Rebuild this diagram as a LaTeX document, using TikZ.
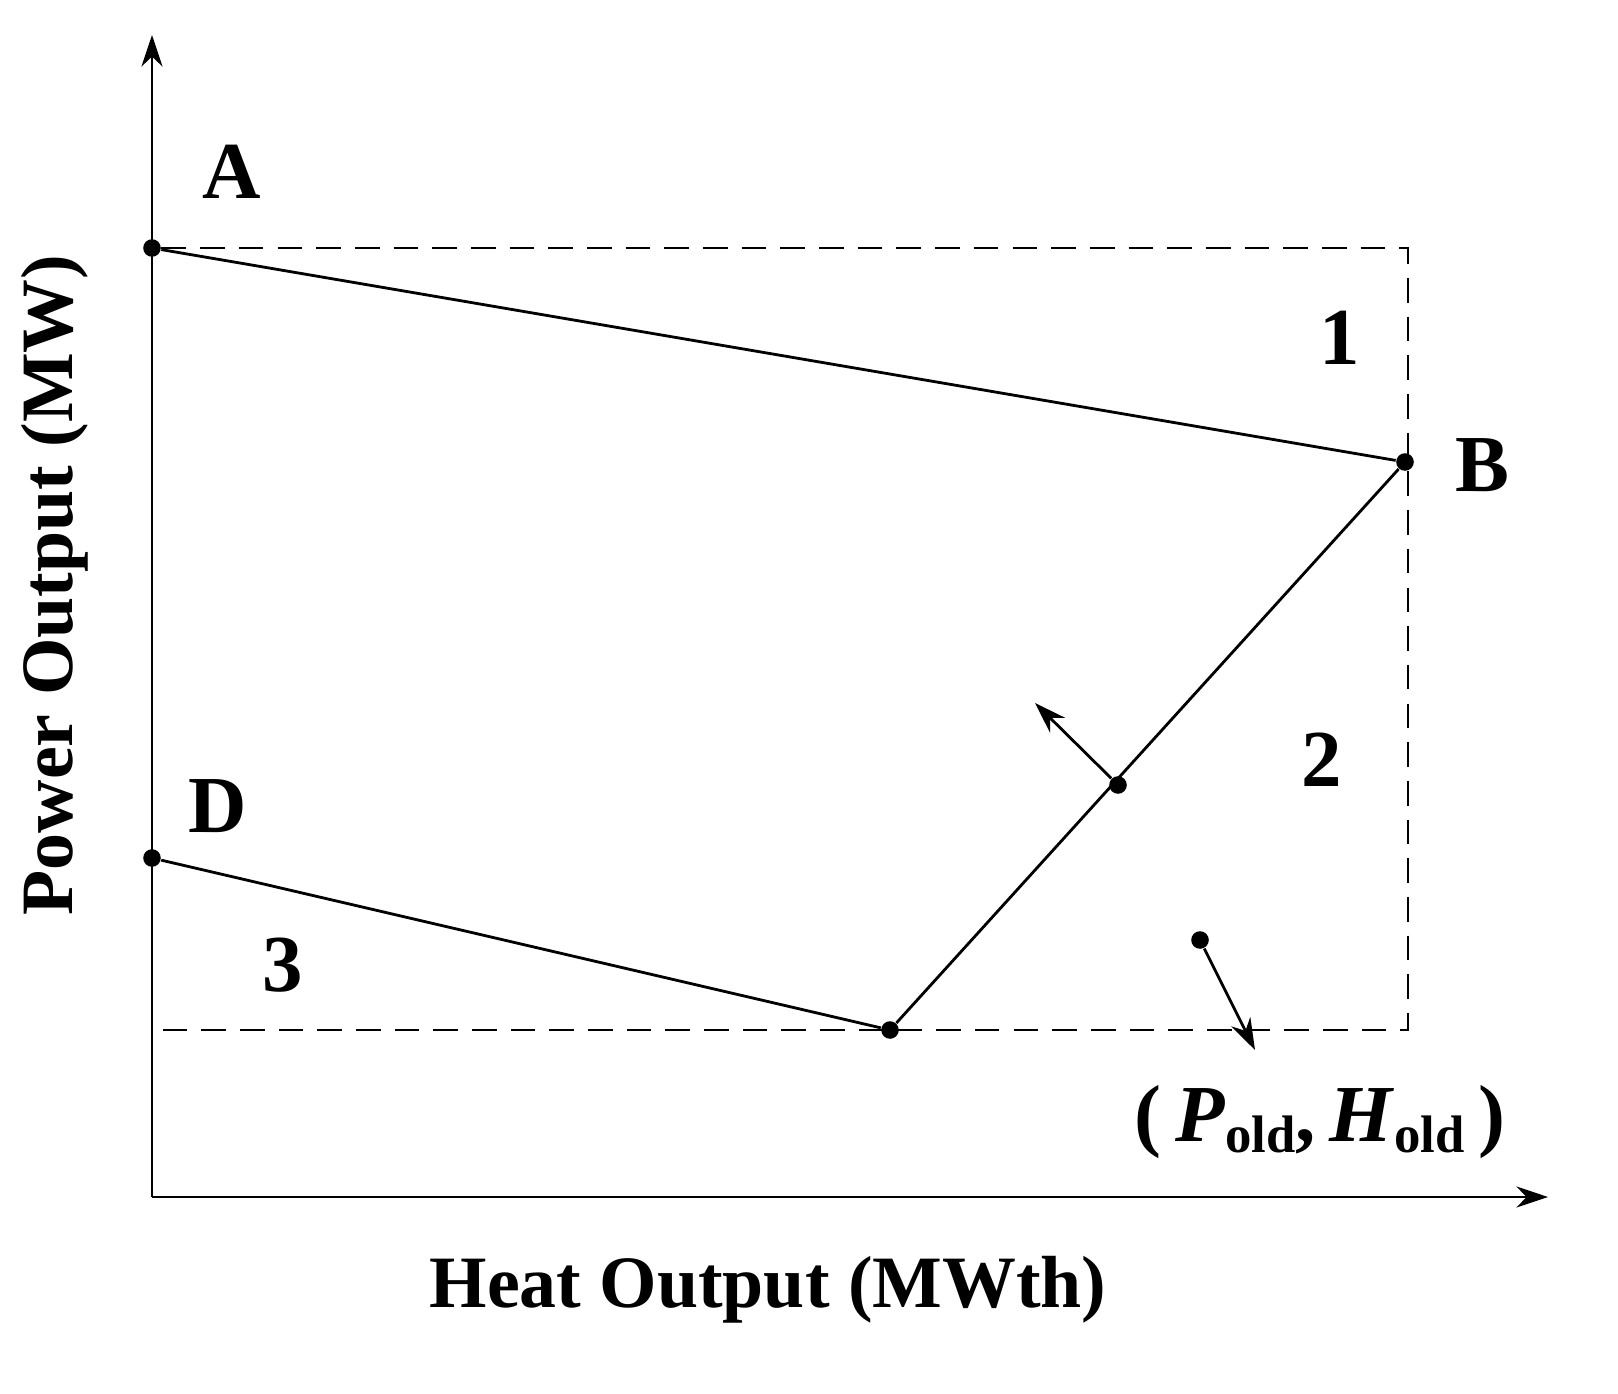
\documentclass[tikz,border=0pt]{standalone}
\usepackage{fontspec}
\setmainfont{Liberation Serif}
\usetikzlibrary{arrows.meta}
\begin{document}
\begin{tikzpicture}[x=0.01cm,y=-0.01cm,
  dot/.style={circle,fill=black,inner sep=0pt,minimum size=5pt},
  lbl/.style={font=\fontsize{23}{27}\selectfont\bfseries},
  ax/.style={font=\fontsize{21}{25}\selectfont\bfseries},
  dsh/.style={dashed,dash pattern=on 7pt off 4pt,line width=0.6pt},
  arr/.style={-{Stealth[length=9pt,width=6pt]},line width=0.8pt}]
\useasboundingbox (0,0) rectangle (1618,1394);
\coordinate (O) at (152,1197);
\coordinate (Ytop) at (152,35);
\coordinate (Xend) at (1548,1197);
\draw[arr] (O) -- (Ytop);
\draw[arr] (O) -- (Xend);
\node[dot] (A) at (152,248) {};
\node[dot] (B) at (1405,462) {};
\node[dot] (C) at (890,1030) {};
\node[dot] (M) at (1118,785) {};
\node[dot] (D) at (152,858) {};
\node[dot] (P) at (1200,940) {};
\coordinate (Mt) at (1035,703);
\coordinate (Pt) at (1255,1050);
\coordinate (TR) at (1408,248);
\coordinate (BR) at (1408,1030);
\coordinate (BL) at (152,1030);
\draw[dsh] (A) -- (TR) -- (BR) -- (BL);
\draw[line width=0.8pt] (A) -- (B) -- (C) -- (D);
\draw[arr] (M) -- (Mt);
\draw[arr] (P) -- (Pt);
\node[lbl] (lA) at (232,172) {A};
\node[lbl] (lB) at (1482,465) {B};
\node[lbl] (l1) at (1340,338) {1};
\node[lbl] (l2) at (1322,760) {2};
\node[lbl] (lD) at (218,806) {D};
\node[lbl] (l3) at (283,965) {3};
\node[lbl] (lP) at (1320,1122) {(\,\textit{P}\raisebox{-0.3ex}{\fontsize{15}{17}\selectfont old},\,\textit{H}\raisebox{-0.3ex}{\fontsize{15}{17}\selectfont old}\,)};
\node[ax,rotate=90] (ly) at (55,585) {Power Output (MW)};
\node[ax] (lx) at (768,1290) {Heat Output (MWth)};
\end{tikzpicture}
\end{document}
